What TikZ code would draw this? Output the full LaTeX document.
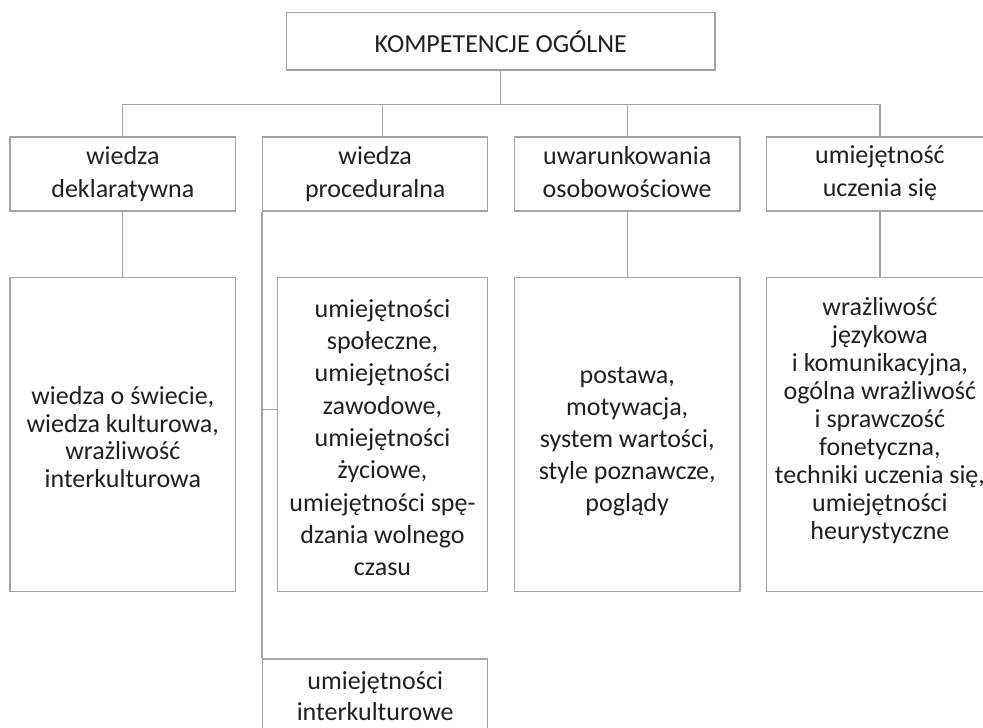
\documentclass[tikz,border=0pt]{standalone}
\usepackage{fontspec}
\setmainfont{Carlito}
\definecolor{linegray}{HTML}{A3A3A3}
\definecolor{ink}{HTML}{231F20}
% invisible rules that give every text block the same top and bottom
\newcommand\lntop{\rule{0pt}{22pt}}
\newcommand\lnbot{\rule[-7pt]{0pt}{7pt}}
\tikzset{
  conn/.style={draw=linegray, line width=1.3pt},
  frame/.style={draw=linegray, line width=1.3pt, rectangle, inner sep=0pt},
  headbox/.style={frame, minimum width=225.7pt, minimum height=74pt},
  bigbox/.style={frame, minimum width=225.7pt, minimum height=314.2pt},
  label/.style={inner sep=0pt, align=center, text=ink,
    font=\fontsize{26}{#1}\selectfont,
    execute at begin node=\lntop, execute at end node=\lnbot},
  label/.default=32.5,
}
\begin{document}
\begin{tikzpicture}[x=1pt,y=-1pt]
  \clip (0,0) rectangle (983,728);
  \fill[white] (0,0) rectangle (983,728);

  % frames
  \node[frame, minimum width=428.3pt, minimum height=57.3pt] (root) at (500.8,41.3) {};
  \node[headbox] (k1) at (122.8,174) {};
  \node[headbox, minimum width=225pt] (k2) at (375.2,174) {};
  \node[headbox] (k3) at (627.2,174) {};
  \node[headbox, minimum width=226.6pt] (k4) at (879.9,174) {};
  \node[bigbox] (d1) at (122.8,434.6) {};
  \node[bigbox, minimum width=210.4pt] (m2) at (382.5,434.6) {};
  \node[bigbox] (d3) at (627.2,434.6) {};
  \node[bigbox, minimum width=226.6pt] (d4) at (879.9,434.6) {};
  \node[frame, minimum width=225pt, minimum height=77pt] (i2) at (375.2,697.5) {};

  % texts
  \node[label] (rootT) at (500.8,44.8) {KOMPETENCJE OGÓLNE};
  \node[label=33] (k1T) at (122.8,175) {wiedza\\deklaratywna};
  \node[label=33] (k2T) at (375.2,175) {wiedza\\proceduralna};
  \node[label=33] (k3T) at (627.2,175) {uwarunkowania\\osobowościowe};
  \node[label=33] (k4T) at (879.9,175) {umiejętność\\uczenia się};
  \node[label=27.4] (d1T) at (122.8,440.5)
    {wiedza o świecie,\\wiedza kulturowa,\\wrażliwość\\interkulturowa};
  \node[label=32.3] (m2T) at (382.5,441)
    {umiejętności\\społeczne,\\umiejętności\\zawodowe,\\umiejętności\\życiowe,\\umiejętności spę-\\dzania wolnego\\czasu};
  \node[label=32] (d3T) at (627.2,442.5)
    {postawa,\\motywacja,\\system wartości,\\style poznawcze,\\poglądy};
  \node[label=28.1] (d4T) at (879.9,422)
    {wrażliwość\\językowa\\i komunikacyjna,\\ogólna wrażliwość\\i sprawczość\\fonetyczna,\\techniki uczenia się,\\umiejętności\\heurystyczne};
  \node[label=31.6] (i2T) at (375.2,699.5)
    {umiejętności\\interkulturowe};

  % connectors
  \coordinate (bar) at (0,104.7);
  \coordinate (br) at (0,409.3);
  \draw[conn] (root.south) -- (root.south |- bar);
  \draw[conn] (k1.north) -- (k1.north |- bar) -- (k4.north |- bar) -- (k4.north);
  \draw[conn] (m2.north |- bar) -- (m2.north |- k2.north);
  \draw[conn] (k3.north |- bar) -- (k3.north);
  \draw[conn] (k1.south) -- (d1.north);
  \draw[conn] (k3.south) -- (d3.north);
  \draw[conn] (k4.south) -- (d4.north);
  \draw[conn] (k2.south west) -- (i2.north west);
  \draw[conn] (k2.south west |- br) -- (m2.west |- br);
\end{tikzpicture}
\end{document}
